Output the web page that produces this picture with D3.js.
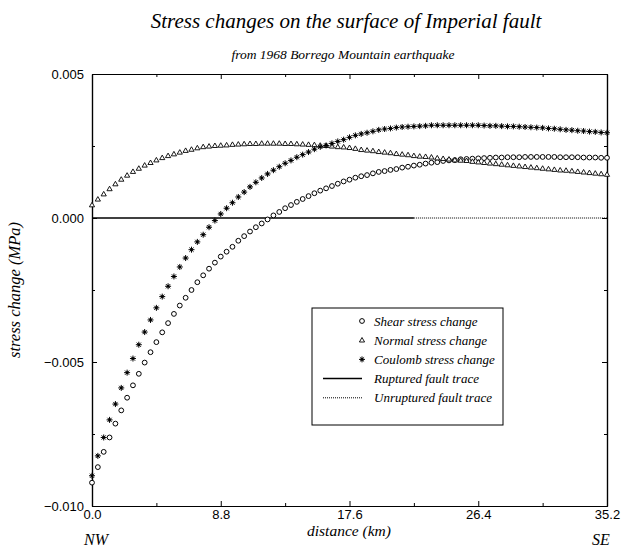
<!DOCTYPE html>
<html>
<head>
<meta charset="utf-8">
<title>Stress changes on the surface of Imperial fault</title>
<script src="https://d3js.org/d3.v7.min.js"></script>
<style>
    body { margin: 0; background: #fff; }
    text { fill: #000; }
</style>
</head>
<body>
<svg width="621" height="548"></svg>
<script>
    // distance along the fault (km), sampled every 0.4 km
    const step = 0.4;
    const xTicks = [0, 8.8, 17.6, 26.4, 35.2];
    const xMinorTicks = [4.4, 13.2, 22.0, 30.8];
    const yTicks = [0.005, 0.000, -0.005, -0.010];
    const yMinorTicks = [0.0025, -0.0025, -0.0075];

    // stress change values (MPa)
    const shear = [
        -0.00919, -0.00865, -0.00812, -0.00762, -0.00714, -0.00668, -0.00624, -0.00581, -0.00541, -0.00502,
        -0.00466, -0.00431, -0.00397, -0.00365, -0.00333, -0.00304, -0.00277, -0.00250, -0.00223, -0.00199,
        -0.00176, -0.00155, -0.00134, -0.00117, -0.00100, -0.00079, -0.00063, -0.00047, -0.00032, -0.00019,
        -0.00005, 0.00009, 0.00021, 0.00034, 0.00045, 0.00056, 0.00066, 0.00076, 0.00086, 0.00095,
        0.00103, 0.00111, 0.00119, 0.00127, 0.00133, 0.00140, 0.00145, 0.00149, 0.00155, 0.00160,
        0.00163, 0.00167, 0.00170, 0.00175, 0.00178, 0.00182, 0.00185, 0.00189, 0.00192, 0.00194,
        0.00198, 0.00200, 0.00201, 0.00204, 0.00205, 0.00206, 0.00207, 0.00208, 0.00209, 0.00210,
        0.00210, 0.00211, 0.00211, 0.00211, 0.00212, 0.00212, 0.00212, 0.00212, 0.00212, 0.00212,
        0.00211, 0.00211, 0.00211, 0.00211, 0.00210, 0.00210, 0.00210, 0.00209, 0.00209
    ];
    const normal = [
        0.00045, 0.00065, 0.00083, 0.00101, 0.00118, 0.00134, 0.00148, 0.00161, 0.00172, 0.00183,
        0.00192, 0.00201, 0.00209, 0.00216, 0.00222, 0.00228, 0.00234, 0.00238, 0.00243, 0.00247,
        0.00249, 0.00251, 0.00252, 0.00253, 0.00255, 0.00256, 0.00257, 0.00258, 0.00258, 0.00259,
        0.00259, 0.00259, 0.00259, 0.00258, 0.00258, 0.00257, 0.00256, 0.00255, 0.00254, 0.00252,
        0.00251, 0.00249, 0.00247, 0.00246, 0.00244, 0.00241, 0.00237, 0.00235, 0.00233, 0.00230,
        0.00228, 0.00226, 0.00223, 0.00221, 0.00219, 0.00216, 0.00214, 0.00213, 0.00211, 0.00208,
        0.00206, 0.00204, 0.00201, 0.00200, 0.00199, 0.00196, 0.00194, 0.00192, 0.00190, 0.00188,
        0.00186, 0.00184, 0.00182, 0.00180, 0.00178, 0.00176, 0.00174, 0.00172, 0.00170, 0.00168,
        0.00166, 0.00165, 0.00163, 0.00161, 0.00159, 0.00157, 0.00155, 0.00153, 0.00151
    ];
    const coulomb = [
        -0.00895, -0.00826, -0.00762, -0.00701, -0.00646, -0.00590, -0.00537, -0.00488, -0.00440, -0.00396,
        -0.00354, -0.00312, -0.00273, -0.00237, -0.00203, -0.00170, -0.00139, -0.00110, -0.00083, -0.00058,
        -0.00032, -0.00009, 0.00014, 0.00034, 0.00053, 0.00073, 0.00090, 0.00108, 0.00124, 0.00139,
        0.00153, 0.00166, 0.00178, 0.00190, 0.00200, 0.00211, 0.00220, 0.00229, 0.00239, 0.00247,
        0.00252, 0.00259, 0.00266, 0.00272, 0.00280, 0.00287, 0.00292, 0.00296, 0.00301, 0.00306,
        0.00309, 0.00311, 0.00314, 0.00316, 0.00317, 0.00318, 0.00319, 0.00320, 0.00322, 0.00322,
        0.00322, 0.00322, 0.00322, 0.00322, 0.00322, 0.00322, 0.00322, 0.00321, 0.00320, 0.00320,
        0.00319, 0.00318, 0.00318, 0.00317, 0.00316, 0.00315, 0.00314, 0.00313, 0.00311, 0.00310,
        0.00308, 0.00306, 0.00305, 0.00303, 0.00302, 0.00300, 0.00299, 0.00297, 0.00296
    ];
    // fault trace along zero line (km)
    const rupturedTrace = [0, 22.0];
    const unrupturedTrace = [22.0, 35.2];

    const legendLabels = ["Shear stress change", "Normal stress change", "Coulomb stress change",
                          "Ruptured fault trace", "Unruptured fault trace"];

    const svg = d3.select("svg"),
          margin = {top: 74, right: 14, bottom: 42, left: 92},
          width = +svg.attr("width"),
          height = +svg.attr("height");

    const x = d3.scaleLinear().domain([0, 35.2]).range([margin.left, width - margin.right]);
    const y = d3.scaleLinear().domain([-0.010, 0.005]).range([height - margin.bottom, margin.top]);

    const serif = "'Liberation Serif', 'Times New Roman', serif";
    const sans = "'Liberation Sans', Arial, sans-serif";

    // titles
    svg.append("text")
       .attr("x", 346).attr("y", 28)
       .attr("text-anchor", "middle")
       .style("font-family", serif).style("font-style", "italic").style("font-size", "21px")
       .text("Stress changes on the surface of Imperial fault");
    svg.append("text")
       .attr("x", 343).attr("y", 59)
       .attr("text-anchor", "middle")
       .style("font-family", serif).style("font-style", "italic").style("font-size", "13.5px")
       .text("from 1968 Borrego Mountain earthquake");

    // axes (ticks pointing inward on all four sides)
    const fmtX = d3.format(".1f"), fmtY = d3.format(".3f");
    svg.append("g")
       .attr("transform", `translate(0,${y.range()[0]})`)
       .call(d3.axisBottom(x).tickValues(xTicks).tickSizeInner(-5).tickSizeOuter(0).tickPadding(4).tickFormat(fmtX));
    svg.append("g")
       .attr("transform", `translate(0,${y.range()[1]})`)
       .call(d3.axisTop(x).tickValues(xTicks).tickSizeInner(-5).tickSizeOuter(0).tickFormat(""));
    svg.append("g")
       .attr("transform", `translate(${x.range()[0]},0)`)
       .call(d3.axisLeft(y).tickValues(yTicks).tickSizeInner(-5).tickSizeOuter(0).tickPadding(8).tickFormat(fmtY));
    svg.append("g")
       .attr("transform", `translate(${x.range()[1]},0)`)
       .call(d3.axisRight(y).tickValues(yTicks).tickSizeInner(-5).tickSizeOuter(0).tickFormat(""));

    // minor ticks
    svg.append("g")
       .attr("transform", `translate(0,${y.range()[0]})`)
       .call(d3.axisBottom(x).tickValues(xMinorTicks).tickSizeInner(-3).tickSizeOuter(0).tickFormat(""));
    svg.append("g")
       .attr("transform", `translate(0,${y.range()[1]})`)
       .call(d3.axisTop(x).tickValues(xMinorTicks).tickSizeInner(-3).tickSizeOuter(0).tickFormat(""));
    svg.append("g")
       .attr("transform", `translate(${x.range()[0]},0)`)
       .call(d3.axisLeft(y).tickValues(yMinorTicks).tickSizeInner(-3).tickSizeOuter(0).tickFormat(""));
    svg.append("g")
       .attr("transform", `translate(${x.range()[1]},0)`)
       .call(d3.axisRight(y).tickValues(yMinorTicks).tickSizeInner(-3).tickSizeOuter(0).tickFormat(""));

    svg.selectAll(".domain").attr("stroke", "#000").attr("stroke-width", 1.2);
    svg.selectAll(".tick line").attr("stroke", "#000");
    svg.selectAll(".tick text").style("font-family", sans).style("font-size", "13px").attr("fill", "#000");

    // axis labels
    svg.append("text")
       .attr("transform", `translate(20,${(y.range()[0] + y.range()[1]) / 2}) rotate(-90)`)
       .attr("text-anchor", "middle")
       .style("font-family", serif).style("font-style", "italic").style("font-size", "16.5px")
       .text("stress change (MPa)");
    svg.append("text")
       .attr("x", 349).attr("y", 536)
       .attr("text-anchor", "middle")
       .style("font-family", serif).style("font-style", "italic").style("font-size", "15.5px")
       .text("distance (km)");
    svg.append("text")
       .attr("x", 96).attr("y", 545)
       .attr("text-anchor", "middle")
       .style("font-family", serif).style("font-style", "italic").style("font-size", "16px")
       .text("NW");
    svg.append("text")
       .attr("x", 601).attr("y", 545)
       .attr("text-anchor", "middle")
       .style("font-family", serif).style("font-style", "italic").style("font-size", "16px")
       .text("SE");

    // fault trace on the zero line
    svg.append("line")
       .attr("x1", x(rupturedTrace[0])).attr("x2", x(rupturedTrace[1]))
       .attr("y1", y(0)).attr("y2", y(0))
       .attr("stroke", "#000").attr("stroke-width", 1.5);
    svg.append("line")
       .attr("x1", x(unrupturedTrace[0])).attr("x2", x(unrupturedTrace[1]))
       .attr("y1", y(0)).attr("y2", y(0))
       .attr("stroke", "#000").attr("stroke-width", 1).attr("stroke-dasharray", "1,1");

    // markers
    const circlePath = "M2.4,0A2.4,2.4 0 1,1 -2.4,0A2.4,2.4 0 1,1 2.4,0Z";
    const trianglePath = "M0,-2.7L2.6,1.8L-2.6,1.8Z";
    const starPath = "M-3,0L3,0M0,-3L0,3M-2.1,-2.1L2.1,2.1M-2.1,2.1L2.1,-2.1";

    function drawMarkers(values, cls, path, fill, sw) {
        svg.append("g").selectAll("path." + cls)
           .data(values)
           .enter().append("path")
           .attr("class", cls)
           .attr("transform", (d, i) => `translate(${x(i * step)},${y(d)})`)
           .attr("d", path)
           .attr("fill", fill)
           .attr("stroke", "#000")
           .attr("stroke-width", sw);
    }
    drawMarkers(shear, "shear", circlePath, "#fff", 1);
    drawMarkers(normal, "normal", trianglePath, "#fff", 0.9);
    drawMarkers(coulomb, "coulomb", starPath, "none", 1);
    svg.append("g").selectAll("circle.cdot")
       .data(coulomb)
       .enter().append("circle")
       .attr("class", "cdot")
       .attr("cx", (d, i) => x(i * step))
       .attr("cy", d => y(d))
       .attr("r", 1.3)
       .attr("fill", "#000");

    // legend
    const legend = svg.append("g").attr("transform", "translate(312,308)");
    legend.append("rect")
       .attr("width", 191).attr("height", 117)
       .attr("fill", "#fff").attr("stroke", "#000").attr("stroke-width", 1);
    const rows = legend.selectAll("g.row")
       .data(legendLabels)
       .enter().append("g")
       .attr("class", "row")
       .attr("transform", (d, i) => `translate(0,${13 + i * 19.2})`);
    rows.append("text")
       .attr("x", 62).attr("y", 4.5)
       .style("font-family", serif).style("font-style", "italic").style("font-size", "13px")
       .text(d => d);
    rows.filter((d, i) => i === 0).append("path").attr("d", circlePath).attr("transform", "translate(50,0)")
       .attr("fill", "#fff").attr("stroke", "#000").attr("stroke-width", 1);
    rows.filter((d, i) => i === 1).append("path").attr("d", trianglePath).attr("transform", "translate(50,0)")
       .attr("fill", "#fff").attr("stroke", "#000").attr("stroke-width", 0.9);
    rows.filter((d, i) => i === 2).append("path").attr("d", starPath).attr("transform", "translate(50,0)")
       .attr("fill", "none").attr("stroke", "#000").attr("stroke-width", 1);
    rows.filter((d, i) => i === 2).append("circle").attr("cx", 50).attr("r", 1.3).attr("fill", "#000");
    rows.filter((d, i) => i === 3).append("line").attr("x1", 11).attr("x2", 50)
       .attr("stroke", "#000").attr("stroke-width", 1.5);
    rows.filter((d, i) => i === 4).append("line").attr("x1", 11).attr("x2", 50)
       .attr("stroke", "#000").attr("stroke-width", 1).attr("stroke-dasharray", "1,1");
</script>
</body>
</html>
